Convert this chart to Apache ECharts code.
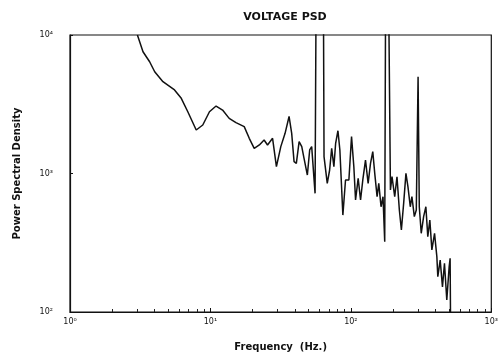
<!DOCTYPE html>
<html>
<head>
<meta charset="utf-8">
<script src="https://cdn.jsdelivr.net/npm/echarts@6/dist/echarts.min.js"></script>
<style>html,body{margin:0;padding:0;background:#fff}#c{width:501px;height:358px}</style>
</head>
<body>
<div id="c"></div>
<script>
var titleText = 'VOLTAGE PSD';
var xName = 'Frequency  (Hz.)';
var yName = 'Power Spectral Density';
var xTickLabels = {1: '10\u2070', 10: '10\u00B9', 100: '10\u00B2', 1000: '10\u00B3'};
var yTickLabels = {100: '10\u00B2', 1000: '10\u00B3', 10000: '10\u2074'};

// frequency (Hz) and PSD values; 1e6 marks off-scale spikes
var freq = [3.02,3.31,3.69,4.01,4.59,5.55,6.20,6.90,7.92,8.82,9.84,10.97,12.2,13.6,15.2,17.4,18.9,20.5,22.3,24.1,25.5,27.7,29.5,31.7,34.0,36.3,37.9,39.4,40.9,42.8,44.7,46.4,49.0,50.9,52.6,55.6,57.7,62.8,64.4,67.9,70.6,73.0,75.7,77.9,80.9,83.5,87.7,91.6,96.8,101.1,105,108,112.7,117.2,121.6,127.1,132.7,138,143.2,147.9,153.7,158,164,169.4,174.2,179.2,184.5,191.3,196.3,205.2,213,221.4,228.9,237.6,246.7,254.9,264.9,272.1,283.1,292.4,301,307,317,329.6,342,353,365,377.4,394.3,409.5,416,432.5,449,464,482,501,509,512];
var psd = [10000,7570,6410,5430,4600,4010,3490,2790,2060,2240,2790,3070,2870,2500,2330,2180,1795,1520,1607,1745,1607,1795,1120,1563,1950,2580,1950,1217,1185,1698,1563,1288,975,1479,1563,719,1e6,1e6,1322,849,1060,1520,1120,1652,2037,1479,501,898,898,1845,1120,644,923,644,898,1251,849,1185,1437,1003,680,849,575,680,322,1e6,1e6,760,948,680,948,545,391,609,1003,803,575,680,488,545,5000,575,370,488,575,350,461,281,370,251,180,237,152,225,122,212,244,99];

var data = freq.map(function(f, i){ return [f, psd[i]]; });
var font = 'DejaVu Sans';

var chart = echarts.init(document.getElementById('c'), null, {renderer: 'canvas'});
chart.setOption({
  animation: false,
  backgroundColor: '#fff',
  title: {
    text: titleText, left: 280, top: 7, textAlign: 'center',
    textStyle: {fontFamily: font, fontSize: 11, fontWeight: 'bold', color: '#111'}
  },
  grid: {left: 70, right: 8, top: 35, bottom: 46, show: true, borderColor: '#111', borderWidth: 1.2, backgroundColor: 'transparent'},
  xAxis: {
    type: 'log', logBase: 10, min: 1, max: 1000,
    name: xName, nameLocation: 'middle', nameGap: 30,
    nameTextStyle: {fontFamily: font, fontSize: 10, fontWeight: 'bold', color: '#111'},
    axisLine: {show: true, lineStyle: {color: '#111', width: 1.2}},
    axisTick: {show: true, inside: true, length: 4, lineStyle: {color: '#111'}},
    minorTick: {show: true, splitNumber: 9, length: 3, lineStyle: {color: '#222', width: 1}},
    splitLine: {show: false},
    axisLabel: {fontFamily: font, fontSize: 8, color: '#111', margin: 6,
      formatter: function(v){ return xTickLabels[Math.round(v)] || ''; }}
  },
  yAxis: {
    type: 'log', logBase: 10, min: 100, max: 10000,
    name: yName, nameLocation: 'middle', nameGap: 48, nameRotate: 90,
    nameTextStyle: {fontFamily: font, fontSize: 10, fontWeight: 'bold', color: '#111'},
    axisLine: {show: true, lineStyle: {color: '#111', width: 1.2}},
    axisTick: {show: true, inside: true, length: 3, lineStyle: {color: '#111'}},
    minorTick: {show: false},
    splitLine: {show: false},
    axisLabel: {fontFamily: font, fontSize: 8, color: '#111', margin: 17,
      formatter: function(v){ return yTickLabels[Math.round(v)] || ''; }}
  },
  series: [{
    type: 'line', data: data, symbol: 'none', clip: true,
    lineStyle: {color: '#111', width: 1.5}
  }]
});
</script>
</body>
</html>
